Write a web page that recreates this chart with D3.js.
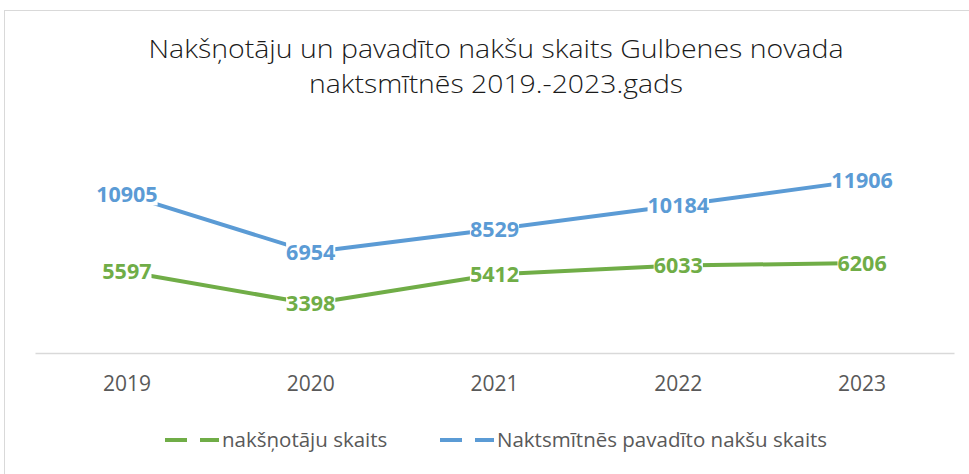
<!DOCTYPE html>
<html>
<head>
<meta charset="utf-8">
<script src="https://cdn.jsdelivr.net/npm/d3@7"></script>
<style>
  body { margin: 0; background: #fff; }
  svg { display: block; font-family: "Open Sans", sans-serif; }
</style>
</head>
<body>
<div id="chart"></div>
<script>
// Data
const years = ['2019', '2020', '2021', '2022', '2023'];
const guests = [5597, 3398, 5412, 6033, 6206];
const nights = [10905, 6954, 8529, 10184, 11906];
const seriesNames = ['nakšņotāju skaits', 'Naktsmītnēs pavadīto nakšu skaits'];
const titleLines = ['Nakšņotāju un pavadīto nakšu skaits Gulbenes novada', 'naktsmītnēs 2019.-2023.gads'];

const w = 969;
const h = 474;
const margin = ({top: 150, right: 15, bottom: 121, left: 35});

const svg = d3.select('#chart')
  .append('svg')
  .attr('width', w)
  .attr('height', h);

// chart frame (cut off by the picture on the right and bottom)
svg.append('rect')
  .attr('x', 4.5)
  .attr('y', 10.5)
  .attr('width', w + 20)
  .attr('height', h + 20)
  .attr('fill', 'none')
  .attr('stroke', '#d9d9d9');

// Scales
const xScale = d3.scaleBand()
  .domain(years)
  .range([margin.left, w - margin.right]);

const yScale = d3.scaleLinear()
  .domain([0, 14000])
  .range([h - margin.bottom, margin.top]);

const xPos = d => xScale(d) + xScale.bandwidth() / 2;

// Title
svg.append('text')
  .attr('x', 496)
  .attr('y', 58)
  .attr('text-anchor', 'middle')
  .attr('font-size', 26)
  .attr('font-weight', 300)
  .attr('fill', '#1a1a1a')
  .selectAll('tspan')
  .data(titleLines)
  .join('tspan')
    .attr('x', 496)
    .attr('dy', (d, i) => i === 0 ? 0 : 35)
    .attr('textLength', (d, i) => i === 0 ? 695 : 374)
    .attr('lengthAdjust', 'spacingAndGlyphs')
    .text(d => d);

// x axis
const xAxis = d3.axisBottom(xScale).tickSize(0).tickPadding(23);

svg.append('g')
  .classed('x-axis', true)
  .attr('transform', `translate(0, ${h - margin.bottom})`)
  .call(xAxis);

svg.select('.x-axis .domain')
  .attr('stroke', '#d9d9d9')
  .attr('stroke-width', 1.5);

svg.selectAll('.x-axis .tick text')
  .attr('font-size', 21)
  .attr('font-family', '"Open Sans", sans-serif')
  .attr('fill', '#595959');

// Lines
const series = [
  {name: seriesNames[0], values: guests, color: '#70ad47'},
  {name: seriesNames[1], values: nights, color: '#5b9bd5'}
];

const line = d3.line()
  .x((d, i) => xPos(years[i]))
  .y(d => yScale(d));

series.forEach(s => {
  svg.append('path')
    .datum(s.values)
    .attr('fill', 'none')
    .attr('stroke', s.color)
    .attr('stroke-width', 4)
    .attr('stroke-linejoin', 'round')
    .attr('d', line);
});

// Data labels, with white box that hides the line under them
series.forEach(s => {
  const g = svg.append('g');
  s.values.forEach((v, i) => {
    const t = g.append('text')
      .attr('x', xPos(years[i]))
      .attr('y', yScale(v))
      .attr('dy', '0.35em')
      .attr('text-anchor', 'middle')
      .attr('font-size', 21.5)
      .attr('font-weight', 700)
      .attr('fill', s.color)
      .text(v);
    const bb = t.node().getBBox();
    g.insert('rect', 'text')
      .attr('x', bb.x)
      .attr('y', bb.y + 3)
      .attr('width', bb.width)
      .attr('height', bb.height - 6)
      .attr('fill', '#fff');
  });
});

// Legend
const legendX = [165, 440];
series.forEach((s, i) => {
  const g = svg.append('g')
    .attr('transform', `translate(${legendX[i]}, 440)`);
  g.append('line')
    .attr('x1', 0)
    .attr('x2', 54)
    .attr('stroke', s.color)
    .attr('stroke-width', 4)
    .attr('stroke-dasharray', '22 13');
  g.append('text')
    .attr('x', 57)
    .attr('dy', '0.35em')
    .attr('font-size', 20.5)
    .attr('fill', '#595959')
    .text(s.name);
});
</script>
</body>
</html>
